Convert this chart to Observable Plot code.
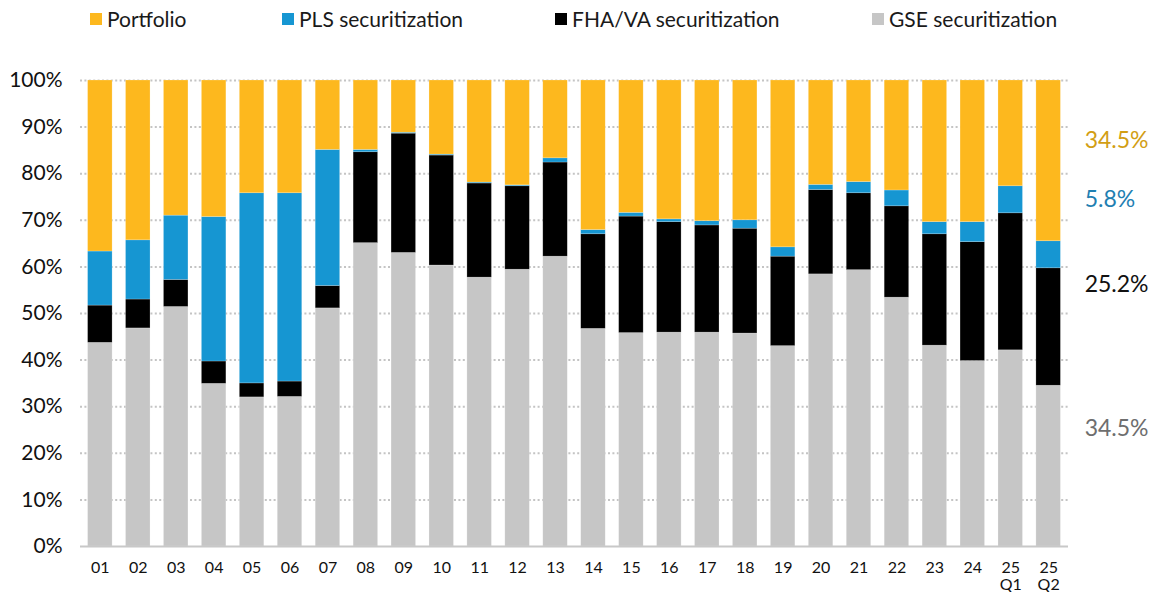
<!DOCTYPE html>
<html>
<head>
<meta charset="utf-8">
<script src="https://cdn.jsdelivr.net/npm/d3@7"></script>
<script src="https://cdn.jsdelivr.net/npm/@observablehq/plot@0.6"></script>
<style>
  html, body { margin: 0; padding: 0; background: #fff; }
  body { width: 1160px; height: 592px; font-family: Lato, "Noto Sans", sans-serif; overflow: hidden; }
  #legend { position: relative; height: 40px; }
  .item { position: absolute; top: 6px; display: flex; align-items: center; font-size: 21px; color: #1a1a1a; white-space: nowrap; }
  .sw { width: 12px; height: 12px; margin-right: 5px; }
  #chart svg { display: block; }
</style>
</head>
<body>
<div id="legend"></div>
<div id="chart"></div>
<script>
const categories = ["01","02","03","04","05","06","07","08","09","10","11","12","13","14","15","16","17","18","19","20","21","22","23","24","25Q1","25Q2"];
const tickLabels = ["01","02","03","04","05","06","07","08","09","10","11","12","13","14","15","16","17","18","19","20","21","22","23","24","25\nQ1","25\nQ2"];
const seriesNames = ["GSE securitization","FHA/VA securitization","PLS securitization","Portfolio"];
const gse       = [43.7,46.8,51.4,34.9,32.0,32.1,51.1,65.1,63.0,60.3,57.7,59.4,62.2,46.7,45.8,45.9,45.9,45.7,43.0,58.4,59.3,53.4,43.1,39.8,42.1,34.5];
const fhava     = [8.0,6.2,5.8,4.8,3.0,3.3,4.8,19.5,25.6,23.6,20.2,17.9,20.2,20.3,25.0,23.7,23.0,22.5,19.2,18.1,16.5,19.6,23.9,25.5,29.4,25.2];
const pls       = [11.6,12.7,13.8,31.0,40.8,40.4,29.2,0.5,0.2,0.2,0.2,0.2,0.9,0.9,0.8,0.6,0.9,1.8,2.0,1.1,2.4,3.4,2.6,4.3,5.8,5.8];
const portfolio = [36.7,34.3,29.0,29.3,24.2,24.2,14.9,14.9,11.2,15.9,21.9,22.5,16.7,32.1,28.4,29.8,30.2,30.0,35.8,22.4,21.8,23.6,30.4,30.4,22.7,34.5];
const legendOrder = ["Portfolio","PLS securitization","FHA/VA securitization","GSE securitization"];
const endLabels = ["34.5%","5.8%","25.2%","34.5%"];
const yTicks = [0,10,20,30,40,50,60,70,80,90,100];

// styles / layout (not data)
const colors = {"GSE securitization":"#C6C6C6","FHA/VA securitization":"#000000","PLS securitization":"#1696D2","Portfolio":"#FDB81E"};
const endLabelColors = ["#D29E14","#1F80B2","#111111","#6E6E6E"];
const endLabelY = [87.1, 74.5, 56.2, 25.2];
const legendX = [90, 282, 555, 872];

// legend
const leg = document.getElementById("legend");
legendOrder.forEach((name, i) => {
  const d = document.createElement("div");
  d.className = "item";
  d.style.left = legendX[i] + "px";
  d.innerHTML = `<span class="sw" style="background:${colors[name]}"></span><span>${name}</span>`;
  leg.appendChild(d);
});

const seriesValues = [gse, fhava, pls, portfolio];
const rows = [];
categories.forEach((c, i) => {
  seriesNames.forEach((s, j) => rows.push({cat: c, series: s, value: seriesValues[j][i]}));
});
const labelOf = new Map(categories.map((c, i) => [c, tickLabels[i]]));
const ann = endLabels.map((t, i) => ({t, y: endLabelY[i], color: endLabelColors[i]}));

const chart = Plot.plot({
  width: 1160,
  height: 552,
  marginTop: 40,
  marginBottom: 46,
  marginLeft: 80,
  marginRight: 92,
  style: {fontFamily: "Lato, 'Noto Sans', sans-serif", background: "#fff", overflow: "visible"},
  x: {domain: categories, paddingInner: 0.354, paddingOuter: 0.2, round: false, label: null},
  y: {domain: [0, 100], label: null},
  color: {domain: seriesNames, range: seriesNames.map(s => colors[s])},
  marks: [
    Plot.ruleY(yTicks.filter(d => d > 0), {stroke: "#C4C4C4", strokeWidth: 2, strokeDasharray: "2,2.4"}),
    Plot.barY(rows, Plot.stackY({
      x: "cat", y: "value", fill: "series", order: seriesNames,
      stroke: "#ffffff", strokeOpacity: 0.35, strokeWidth: 0.6
    })),
    Plot.ruleY([0], {stroke: "#C8C8C8", strokeWidth: 2}),
    Plot.axisY({ticks: yTicks, tickSize: 0, tickPadding: 18, tickFormat: d => d + "%", fontSize: 21, fill: "#111", label: null}),
    Plot.axisX({tickSize: 0, tickPadding: 14, tickFormat: d => labelOf.get(d), fontSize: 16, lineHeight: 1.08, fill: "#111", label: null}),
    Plot.text(ann, {x: () => "25Q2", y: "y", text: "t", fill: "color", dx: 36, textAnchor: "start", fontSize: 23})
  ]
});
document.getElementById("chart").appendChild(chart);
</script>
</body>
</html>
